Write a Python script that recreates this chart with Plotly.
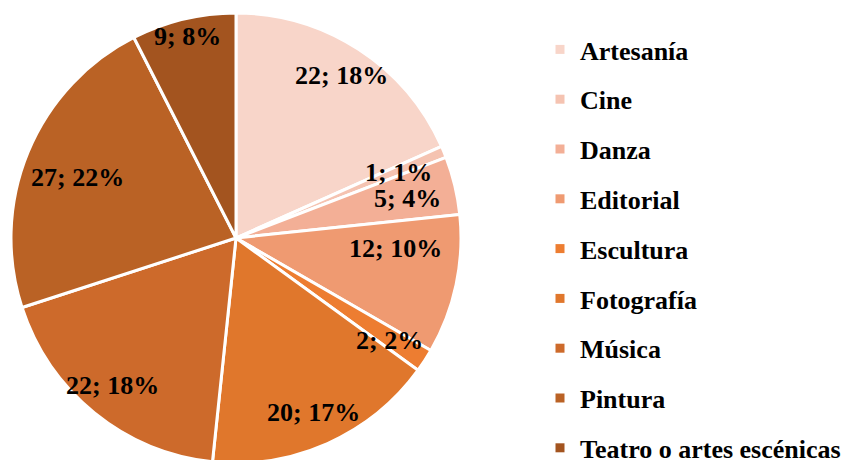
import math
import plotly.graph_objects as go

categories = ["Artesanía", "Cine", "Danza", "Editorial", "Escultura",
              "Fotografía", "Música", "Pintura", "Teatro o artes escénicas"]
values = [22, 1, 5, 12, 2, 20, 22, 27, 9]
colors = ["#F8D5C9", "#F5C3B1", "#F3AF96", "#EF9A71", "#ED7D31",
          "#E0772C", "#CD6A2B", "#BA6225", "#A3541F"]

# label placement (radial fraction of radius, angular shift in degrees)
label_r = [0.86, 0.78, 0.78, 0.71, 0.82, 0.85, 0.855, 0.755, 0.92]
label_shift = [0, 0.6, 0.6, -8.4, 0.7, 0, 1.0, -1.8, 0]

W, H = 851, 476
dom_x = [11 / W, 461 / W]
dom_y = [0.0, 1.0]
cx = (dom_x[0] + dom_x[1]) / 2 * W
cy = (1 - (dom_y[0] + dom_y[1]) / 2) * H
R = min((dom_x[1] - dom_x[0]) * W, (dom_y[1] - dom_y[0]) * H) / 2

FONT = "Liberation Serif, Times New Roman, serif"
total = sum(values)

fig = go.Figure()
fig.add_trace(go.Pie(
    labels=categories, values=values, sort=False, direction="clockwise",
    rotation=0, marker=dict(colors=colors, line=dict(color="white", width=3)),
    textinfo="none", showlegend=False, domain=dict(x=dom_x, y=dom_y),
    hoverinfo="label+value+percent",
))

# legend via dummy entries
for i, (c, col) in enumerate(zip(categories, colors)):
    fig.add_trace(go.Scatter(
        x=[None], y=[None], mode="markers", name=c, legendgroup=c,
        marker=dict(symbol="square", size=9, color=col),
    ))

annotations = []
cum = 0
for i, v in enumerate(values):
    a = math.radians((cum + v / 2) / total * 360 + label_shift[i])
    cum += v
    r = label_r[i] * R
    px = cx + r * math.sin(a)
    py = cy - r * math.cos(a)
    pct = round(v * 100 / total)
    annotations.append(dict(
        x=px / W, y=1 - py / H, xref="paper", yref="paper",
        text=f"<b>{v}; {pct}%</b>", showarrow=False,
        font=dict(family=FONT, size=26, color="black"),
        xanchor="center", yanchor="middle",
    ))

fig.update_layout(
    width=W, height=H, margin=dict(l=0, r=0, t=0, b=0),
    paper_bgcolor="white", plot_bgcolor="white",
    xaxis=dict(visible=False), yaxis=dict(visible=False),
    annotations=annotations,
    legend=dict(x=540 / W, xanchor="left", y=1 - 26 / H, yanchor="top",
                font=dict(family=FONT, size=26, color="black", weight="bold"),
                tracegroupgap=13, itemwidth=30, bgcolor="rgba(0,0,0,0)"),
)

fig.write_html("out.html", config={"displayModeBar": False}, post_script=(
    "document.body.style.margin='0';document.body.style.overflow='hidden';"))
